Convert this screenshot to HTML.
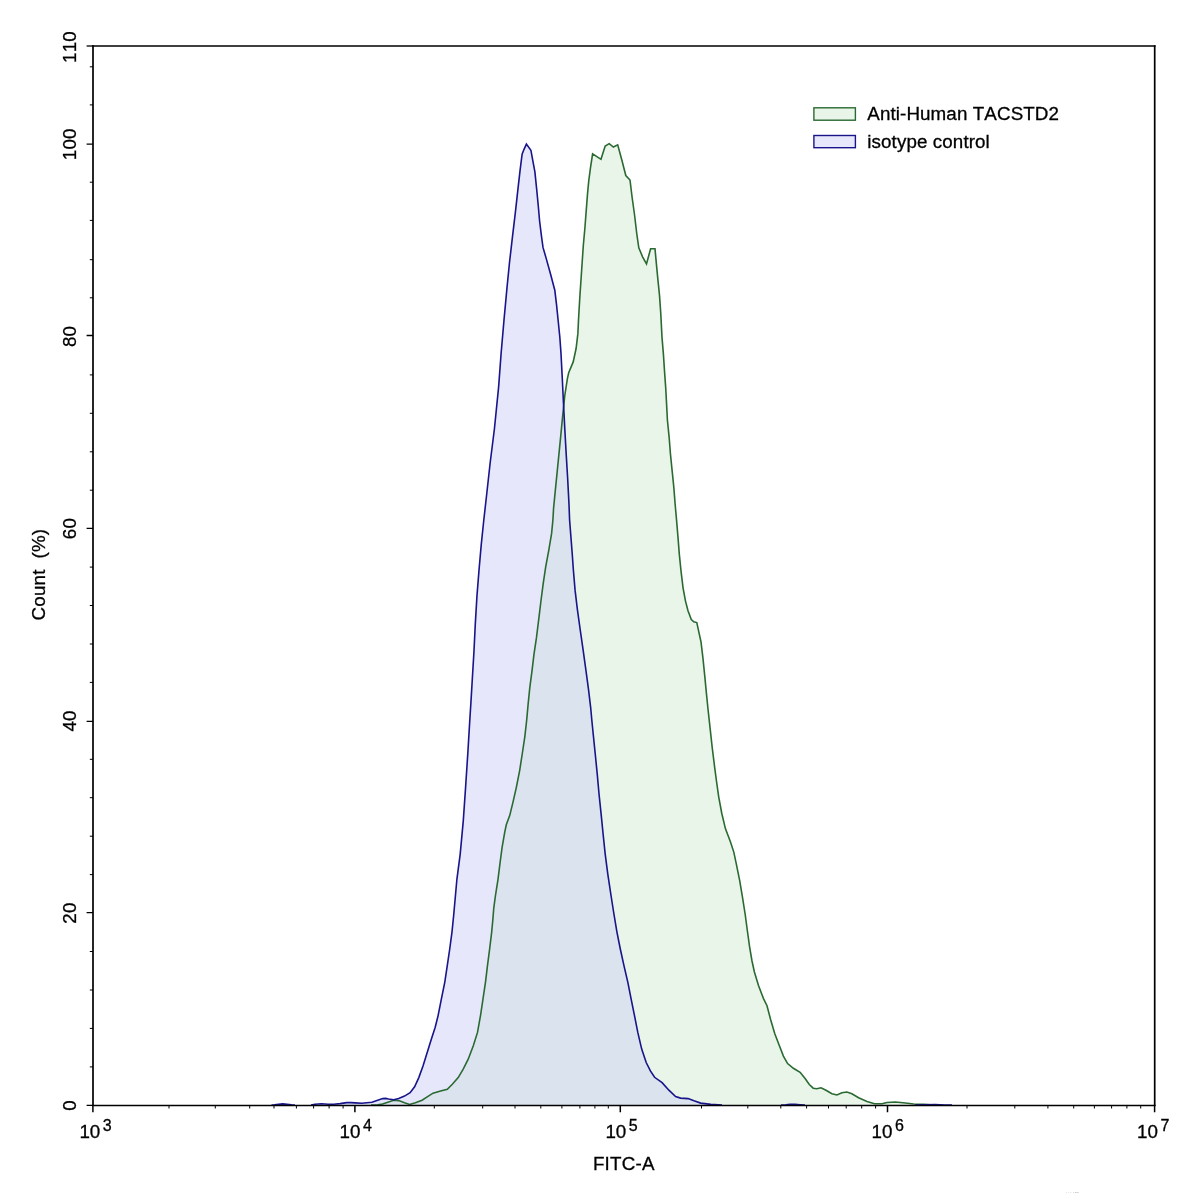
<!DOCTYPE html>
<html><head><meta charset="utf-8"><title>FITC-A histogram</title>
<style>
html,body{margin:0;padding:0;background:#fff;}
body{width:1197px;height:1193px;overflow:hidden;}
svg{display:block;}
text{font-family:"Liberation Sans",sans-serif;fill:#000;font-kerning:none;letter-spacing:0.2px;stroke:#000;stroke-width:0.3px;}
svg{will-change:transform;}
</style></head><body>
<svg width="1197" height="1193" viewBox="0 0 1197 1193">
<rect x="0" y="0" width="1197" height="1193" fill="#ffffff"/>

<defs><clipPath id="cg"><path d="M371.0,1105.3 L378.0,1104.9 L382.5,1104.0 L388.6,1101.9 L393.6,1100.2 L398.7,1100.6 L404.5,1102.8 L409.6,1104.4 L415.4,1102.8 L422.1,1100.2 L427.2,1096.9 L433.0,1093.2 L440.6,1091.0 L447.3,1089.3 L452.3,1084.3 L458.2,1077.6 L463.2,1069.2 L468.2,1059.2 L473.3,1045.8 L477.5,1032.4 L480.5,1015.6 L483.0,998.8 L485.5,982.1 L487.5,965.3 L489.7,948.5 L491.7,931.8 L492.8,920.0 L493.8,907.8 L495.4,896.0 L498.0,879.3 L500.1,862.5 L502.1,847.4 L504.7,832.3 L506.3,824.8 L509.7,815.6 L513.0,802.1 L516.4,787.1 L519.7,770.3 L522.3,753.5 L524.8,736.8 L526.7,720.0 L528.1,704.4 L529.8,687.6 L532.0,670.9 L534.0,654.1 L536.5,637.4 L539.0,617.2 L541.0,600.5 L543.2,583.7 L545.7,566.9 L548.8,550.2 L551.6,533.4 L552.9,520.0 L553.6,507.8 L555.6,487.6 L558.1,462.5 L560.6,437.4 L562.7,415.6 L564.8,395.4 L567.4,378.7 L568.7,372.8 L573.2,361.9 L576.1,348.5 L577.9,333.4 L578.5,320.0 L579.9,296.0 L581.6,270.9 L583.3,245.7 L584.9,228.0 L586.3,209.6 L587.6,192.9 L588.8,180.3 L590.5,167.7 L592.6,153.8 L601.0,159.3 L603.1,152.4 L605.2,146.0 L609.2,143.6 L613.4,147.0 L617.7,144.8 L621.9,160.2 L625.8,175.5 L630.0,180.0 L632.0,196.5 L634.5,214.5 L636.8,234.0 L638.8,247.9 L642.7,257.1 L646.5,263.9 L650.6,248.8 L655.0,248.8 L656.2,261.9 L657.8,278.7 L659.5,295.4 L660.7,312.2 L662.0,337.4 L663.4,354.1 L664.5,370.9 L665.7,387.6 L666.6,404.4 L667.4,420.0 L669.1,436.8 L670.4,453.5 L672.1,470.3 L673.8,487.1 L675.1,503.8 L676.6,520.6 L678.0,537.4 L679.3,554.1 L681.0,570.9 L683.0,587.6 L685.5,601.1 L688.0,610.8 L691.3,619.5 L693.8,621.8 L696.8,622.6 L698.8,631.9 L701.0,641.9 L703.0,658.7 L704.7,675.4 L706.3,692.2 L708.0,709.0 L710.2,729.1 L712.2,747.5 L714.7,767.6 L716.6,782.0 L718.7,796.8 L721.8,813.5 L725.4,828.6 L730.5,842.0 L733.8,852.1 L736.3,863.8 L739.7,880.6 L742.5,897.4 L745.2,914.5 L747.4,931.0 L749.6,946.8 L752.0,961.0 L754.4,972.0 L758.4,985.2 L763.5,998.6 L767.0,1005.7 L770.6,1019.5 L774.8,1033.8 L779.2,1045.2 L783.4,1056.1 L787.6,1063.6 L793.4,1068.3 L800.1,1072.3 L805.1,1078.6 L809.3,1084.5 L813.2,1088.2 L816.8,1088.7 L821.0,1087.8 L826.0,1090.3 L831.9,1093.7 L836.9,1095.0 L841.9,1092.8 L846.9,1092.0 L851.9,1093.7 L858.6,1097.8 L867.0,1101.5 L874.5,1103.7 L882.0,1103.7 L887.0,1102.5 L895.4,1102.0 L905.4,1103.0 L913.7,1104.0 L923.8,1104.4 L934.5,1105.3 L934.5,1105.3 L371.0,1105.3 Z"/></clipPath></defs>
<path d="M371.0,1105.3 L378.0,1104.9 L382.5,1104.0 L388.6,1101.9 L393.6,1100.2 L398.7,1100.6 L404.5,1102.8 L409.6,1104.4 L415.4,1102.8 L422.1,1100.2 L427.2,1096.9 L433.0,1093.2 L440.6,1091.0 L447.3,1089.3 L452.3,1084.3 L458.2,1077.6 L463.2,1069.2 L468.2,1059.2 L473.3,1045.8 L477.5,1032.4 L480.5,1015.6 L483.0,998.8 L485.5,982.1 L487.5,965.3 L489.7,948.5 L491.7,931.8 L492.8,920.0 L493.8,907.8 L495.4,896.0 L498.0,879.3 L500.1,862.5 L502.1,847.4 L504.7,832.3 L506.3,824.8 L509.7,815.6 L513.0,802.1 L516.4,787.1 L519.7,770.3 L522.3,753.5 L524.8,736.8 L526.7,720.0 L528.1,704.4 L529.8,687.6 L532.0,670.9 L534.0,654.1 L536.5,637.4 L539.0,617.2 L541.0,600.5 L543.2,583.7 L545.7,566.9 L548.8,550.2 L551.6,533.4 L552.9,520.0 L553.6,507.8 L555.6,487.6 L558.1,462.5 L560.6,437.4 L562.7,415.6 L564.8,395.4 L567.4,378.7 L568.7,372.8 L573.2,361.9 L576.1,348.5 L577.9,333.4 L578.5,320.0 L579.9,296.0 L581.6,270.9 L583.3,245.7 L584.9,228.0 L586.3,209.6 L587.6,192.9 L588.8,180.3 L590.5,167.7 L592.6,153.8 L601.0,159.3 L603.1,152.4 L605.2,146.0 L609.2,143.6 L613.4,147.0 L617.7,144.8 L621.9,160.2 L625.8,175.5 L630.0,180.0 L632.0,196.5 L634.5,214.5 L636.8,234.0 L638.8,247.9 L642.7,257.1 L646.5,263.9 L650.6,248.8 L655.0,248.8 L656.2,261.9 L657.8,278.7 L659.5,295.4 L660.7,312.2 L662.0,337.4 L663.4,354.1 L664.5,370.9 L665.7,387.6 L666.6,404.4 L667.4,420.0 L669.1,436.8 L670.4,453.5 L672.1,470.3 L673.8,487.1 L675.1,503.8 L676.6,520.6 L678.0,537.4 L679.3,554.1 L681.0,570.9 L683.0,587.6 L685.5,601.1 L688.0,610.8 L691.3,619.5 L693.8,621.8 L696.8,622.6 L698.8,631.9 L701.0,641.9 L703.0,658.7 L704.7,675.4 L706.3,692.2 L708.0,709.0 L710.2,729.1 L712.2,747.5 L714.7,767.6 L716.6,782.0 L718.7,796.8 L721.8,813.5 L725.4,828.6 L730.5,842.0 L733.8,852.1 L736.3,863.8 L739.7,880.6 L742.5,897.4 L745.2,914.5 L747.4,931.0 L749.6,946.8 L752.0,961.0 L754.4,972.0 L758.4,985.2 L763.5,998.6 L767.0,1005.7 L770.6,1019.5 L774.8,1033.8 L779.2,1045.2 L783.4,1056.1 L787.6,1063.6 L793.4,1068.3 L800.1,1072.3 L805.1,1078.6 L809.3,1084.5 L813.2,1088.2 L816.8,1088.7 L821.0,1087.8 L826.0,1090.3 L831.9,1093.7 L836.9,1095.0 L841.9,1092.8 L846.9,1092.0 L851.9,1093.7 L858.6,1097.8 L867.0,1101.5 L874.5,1103.7 L882.0,1103.7 L887.0,1102.5 L895.4,1102.0 L905.4,1103.0 L913.7,1104.0 L923.8,1104.4 L934.5,1105.3 L934.5,1105.3 L371.0,1105.3 Z" fill="#e9f5e9" stroke="none"/>
<path d="M271.5,1105.3 L274.5,1104.9 L278.5,1104.2 L282.7,1103.9 L287.0,1104.2 L291.5,1104.9 L295.0,1105.3 L311.0,1105.3 L315.0,1104.2 L321.5,1103.8 L328.0,1104.2 L334.0,1104.3 L340.0,1103.6 L346.7,1102.6 L351.0,1102.6 L355.1,1102.9 L361.8,1103.3 L371.9,1102.3 L377.7,1100.2 L382.7,1098.6 L385.6,1098.4 L388.6,1099.0 L393.6,1099.7 L398.7,1098.6 L404.5,1096.1 L410.1,1092.7 L414.6,1086.8 L418.8,1077.6 L423.0,1065.9 L427.2,1052.5 L431.4,1039.1 L435.2,1027.3 L438.1,1015.6 L441.4,998.8 L444.8,982.1 L447.3,965.3 L449.8,948.5 L452.0,931.8 L453.7,915.0 L456.9,879.3 L460.2,854.1 L463.3,820.6 L465.6,787.1 L467.8,753.5 L469.8,720.0 L470.8,704.4 L472.3,679.3 L474.0,650.8 L475.3,623.9 L477.0,595.4 L479.0,570.3 L481.2,545.1 L483.8,520.0 L486.5,496.0 L490.2,462.5 L494.4,429.0 L498.6,387.1 L501.1,353.5 L504.0,320.0 L507.0,287.6 L509.5,262.5 L512.4,237.4 L515.4,212.2 L517.8,190.4 L520.1,170.2 L522.1,154.2 L523.8,149.8 L526.4,144.1 L530.9,150.2 L532.1,156.9 L534.9,171.8 L536.6,188.5 L538.2,205.0 L539.6,221.0 L541.4,235.7 L543.0,247.4 L546.4,259.1 L550.6,274.2 L554.8,290.2 L556.5,304.4 L558.1,320.0 L559.8,336.8 L561.0,353.5 L562.3,378.7 L563.5,403.8 L564.8,429.0 L566.2,454.1 L567.7,479.3 L569.0,504.4 L569.6,520.0 L570.9,536.8 L572.2,553.5 L573.4,570.3 L575.1,590.4 L577.3,608.9 L580.1,629.0 L583.0,649.1 L586.0,670.9 L588.5,689.3 L590.7,707.8 L591.8,720.0 L593.5,736.8 L595.2,753.5 L597.2,773.6 L599.0,793.8 L601.1,813.9 L603.1,834.0 L605.2,854.1 L607.8,874.2 L611.1,896.0 L613.6,912.0 L616.9,931.8 L620.2,948.5 L623.9,965.3 L627.8,982.1 L631.1,998.8 L634.5,1015.6 L637.8,1032.4 L641.7,1049.1 L646.2,1062.5 L650.4,1070.9 L654.6,1077.3 L662.1,1082.6 L668.9,1090.2 L675.6,1096.6 L680.6,1098.1 L688.1,1098.6 L694.0,1100.8 L700.7,1103.1 L710.8,1104.4 L722.0,1105.3 L781.0,1105.3 L786.0,1104.7 L790.0,1104.3 L795.0,1104.3 L800.0,1104.7 L805.0,1105.3 L830.0,1105.3 L915.0,1105.3 L925.0,1104.8 L935.0,1104.5 L945.0,1105.0 L952.0,1105.3 L952.0,1105.3 L271.5,1105.3 Z" fill="#e6e7fb" stroke="none"/>
<path d="M271.5,1105.3 L274.5,1104.9 L278.5,1104.2 L282.7,1103.9 L287.0,1104.2 L291.5,1104.9 L295.0,1105.3 L311.0,1105.3 L315.0,1104.2 L321.5,1103.8 L328.0,1104.2 L334.0,1104.3 L340.0,1103.6 L346.7,1102.6 L351.0,1102.6 L355.1,1102.9 L361.8,1103.3 L371.9,1102.3 L377.7,1100.2 L382.7,1098.6 L385.6,1098.4 L388.6,1099.0 L393.6,1099.7 L398.7,1098.6 L404.5,1096.1 L410.1,1092.7 L414.6,1086.8 L418.8,1077.6 L423.0,1065.9 L427.2,1052.5 L431.4,1039.1 L435.2,1027.3 L438.1,1015.6 L441.4,998.8 L444.8,982.1 L447.3,965.3 L449.8,948.5 L452.0,931.8 L453.7,915.0 L456.9,879.3 L460.2,854.1 L463.3,820.6 L465.6,787.1 L467.8,753.5 L469.8,720.0 L470.8,704.4 L472.3,679.3 L474.0,650.8 L475.3,623.9 L477.0,595.4 L479.0,570.3 L481.2,545.1 L483.8,520.0 L486.5,496.0 L490.2,462.5 L494.4,429.0 L498.6,387.1 L501.1,353.5 L504.0,320.0 L507.0,287.6 L509.5,262.5 L512.4,237.4 L515.4,212.2 L517.8,190.4 L520.1,170.2 L522.1,154.2 L523.8,149.8 L526.4,144.1 L530.9,150.2 L532.1,156.9 L534.9,171.8 L536.6,188.5 L538.2,205.0 L539.6,221.0 L541.4,235.7 L543.0,247.4 L546.4,259.1 L550.6,274.2 L554.8,290.2 L556.5,304.4 L558.1,320.0 L559.8,336.8 L561.0,353.5 L562.3,378.7 L563.5,403.8 L564.8,429.0 L566.2,454.1 L567.7,479.3 L569.0,504.4 L569.6,520.0 L570.9,536.8 L572.2,553.5 L573.4,570.3 L575.1,590.4 L577.3,608.9 L580.1,629.0 L583.0,649.1 L586.0,670.9 L588.5,689.3 L590.7,707.8 L591.8,720.0 L593.5,736.8 L595.2,753.5 L597.2,773.6 L599.0,793.8 L601.1,813.9 L603.1,834.0 L605.2,854.1 L607.8,874.2 L611.1,896.0 L613.6,912.0 L616.9,931.8 L620.2,948.5 L623.9,965.3 L627.8,982.1 L631.1,998.8 L634.5,1015.6 L637.8,1032.4 L641.7,1049.1 L646.2,1062.5 L650.4,1070.9 L654.6,1077.3 L662.1,1082.6 L668.9,1090.2 L675.6,1096.6 L680.6,1098.1 L688.1,1098.6 L694.0,1100.8 L700.7,1103.1 L710.8,1104.4 L722.0,1105.3 L781.0,1105.3 L786.0,1104.7 L790.0,1104.3 L795.0,1104.3 L800.0,1104.7 L805.0,1105.3 L830.0,1105.3 L915.0,1105.3 L925.0,1104.8 L935.0,1104.5 L945.0,1105.0 L952.0,1105.3 L952.0,1105.3 L271.5,1105.3 Z" fill="#dbe3ee" stroke="none" clip-path="url(#cg)"/>
<path d="M371.0,1105.0 L378.0,1104.9 L382.5,1104.0 L388.6,1101.9 L393.6,1100.2 L398.7,1100.6 L404.5,1102.8 L409.6,1104.4 L415.4,1102.8 L422.1,1100.2 L427.2,1096.9 L433.0,1093.2 L440.6,1091.0 L447.3,1089.3 L452.3,1084.3 L458.2,1077.6 L463.2,1069.2 L468.2,1059.2 L473.3,1045.8 L477.5,1032.4 L480.5,1015.6 L483.0,998.8 L485.5,982.1 L487.5,965.3 L489.7,948.5 L491.7,931.8 L492.8,920.0 L493.8,907.8 L495.4,896.0 L498.0,879.3 L500.1,862.5 L502.1,847.4 L504.7,832.3 L506.3,824.8 L509.7,815.6 L513.0,802.1 L516.4,787.1 L519.7,770.3 L522.3,753.5 L524.8,736.8 L526.7,720.0 L528.1,704.4 L529.8,687.6 L532.0,670.9 L534.0,654.1 L536.5,637.4 L539.0,617.2 L541.0,600.5 L543.2,583.7 L545.7,566.9 L548.8,550.2 L551.6,533.4 L552.9,520.0 L553.6,507.8 L555.6,487.6 L558.1,462.5 L560.6,437.4 L562.7,415.6 L564.8,395.4 L567.4,378.7 L568.7,372.8 L573.2,361.9 L576.1,348.5 L577.9,333.4 L578.5,320.0 L579.9,296.0 L581.6,270.9 L583.3,245.7 L584.9,228.0 L586.3,209.6 L587.6,192.9 L588.8,180.3 L590.5,167.7 L592.6,153.8 L601.0,159.3 L603.1,152.4 L605.2,146.0 L609.2,143.6 L613.4,147.0 L617.7,144.8 L621.9,160.2 L625.8,175.5 L630.0,180.0 L632.0,196.5 L634.5,214.5 L636.8,234.0 L638.8,247.9 L642.7,257.1 L646.5,263.9 L650.6,248.8 L655.0,248.8 L656.2,261.9 L657.8,278.7 L659.5,295.4 L660.7,312.2 L662.0,337.4 L663.4,354.1 L664.5,370.9 L665.7,387.6 L666.6,404.4 L667.4,420.0 L669.1,436.8 L670.4,453.5 L672.1,470.3 L673.8,487.1 L675.1,503.8 L676.6,520.6 L678.0,537.4 L679.3,554.1 L681.0,570.9 L683.0,587.6 L685.5,601.1 L688.0,610.8 L691.3,619.5 L693.8,621.8 L696.8,622.6 L698.8,631.9 L701.0,641.9 L703.0,658.7 L704.7,675.4 L706.3,692.2 L708.0,709.0 L710.2,729.1 L712.2,747.5 L714.7,767.6 L716.6,782.0 L718.7,796.8 L721.8,813.5 L725.4,828.6 L730.5,842.0 L733.8,852.1 L736.3,863.8 L739.7,880.6 L742.5,897.4 L745.2,914.5 L747.4,931.0 L749.6,946.8 L752.0,961.0 L754.4,972.0 L758.4,985.2 L763.5,998.6 L767.0,1005.7 L770.6,1019.5 L774.8,1033.8 L779.2,1045.2 L783.4,1056.1 L787.6,1063.6 L793.4,1068.3 L800.1,1072.3 L805.1,1078.6 L809.3,1084.5 L813.2,1088.2 L816.8,1088.7 L821.0,1087.8 L826.0,1090.3 L831.9,1093.7 L836.9,1095.0 L841.9,1092.8 L846.9,1092.0 L851.9,1093.7 L858.6,1097.8 L867.0,1101.5 L874.5,1103.7 L882.0,1103.7 L887.0,1102.5 L895.4,1102.0 L905.4,1103.0 L913.7,1104.0 L923.8,1104.4 L934.5,1105.0" fill="none" stroke="#2a6a32" stroke-width="1.6" stroke-linejoin="miter" stroke-miterlimit="6"/>
<path d="M271.5,1105.0 L274.5,1104.9 L278.5,1104.2 L282.7,1103.9 L287.0,1104.2 L291.5,1104.9 L295.0,1105.0 M311.0,1105.0 L315.0,1104.2 L321.5,1103.8 L328.0,1104.2 L334.0,1104.3 L340.0,1103.6 L346.7,1102.6 L351.0,1102.6 L355.1,1102.9 L361.8,1103.3 L371.9,1102.3 L377.7,1100.2 L382.7,1098.6 L385.6,1098.4 L388.6,1099.0 L393.6,1099.7 L398.7,1098.6 L404.5,1096.1 L410.1,1092.7 L414.6,1086.8 L418.8,1077.6 L423.0,1065.9 L427.2,1052.5 L431.4,1039.1 L435.2,1027.3 L438.1,1015.6 L441.4,998.8 L444.8,982.1 L447.3,965.3 L449.8,948.5 L452.0,931.8 L453.7,915.0 L456.9,879.3 L460.2,854.1 L463.3,820.6 L465.6,787.1 L467.8,753.5 L469.8,720.0 L470.8,704.4 L472.3,679.3 L474.0,650.8 L475.3,623.9 L477.0,595.4 L479.0,570.3 L481.2,545.1 L483.8,520.0 L486.5,496.0 L490.2,462.5 L494.4,429.0 L498.6,387.1 L501.1,353.5 L504.0,320.0 L507.0,287.6 L509.5,262.5 L512.4,237.4 L515.4,212.2 L517.8,190.4 L520.1,170.2 L522.1,154.2 L523.8,149.8 L526.4,144.1 L530.9,150.2 L532.1,156.9 L534.9,171.8 L536.6,188.5 L538.2,205.0 L539.6,221.0 L541.4,235.7 L543.0,247.4 L546.4,259.1 L550.6,274.2 L554.8,290.2 L556.5,304.4 L558.1,320.0 L559.8,336.8 L561.0,353.5 L562.3,378.7 L563.5,403.8 L564.8,429.0 L566.2,454.1 L567.7,479.3 L569.0,504.4 L569.6,520.0 L570.9,536.8 L572.2,553.5 L573.4,570.3 L575.1,590.4 L577.3,608.9 L580.1,629.0 L583.0,649.1 L586.0,670.9 L588.5,689.3 L590.7,707.8 L591.8,720.0 L593.5,736.8 L595.2,753.5 L597.2,773.6 L599.0,793.8 L601.1,813.9 L603.1,834.0 L605.2,854.1 L607.8,874.2 L611.1,896.0 L613.6,912.0 L616.9,931.8 L620.2,948.5 L623.9,965.3 L627.8,982.1 L631.1,998.8 L634.5,1015.6 L637.8,1032.4 L641.7,1049.1 L646.2,1062.5 L650.4,1070.9 L654.6,1077.3 L662.1,1082.6 L668.9,1090.2 L675.6,1096.6 L680.6,1098.1 L688.1,1098.6 L694.0,1100.8 L700.7,1103.1 L710.8,1104.4 L722.0,1105.0 M781.0,1105.0 L786.0,1104.7 L790.0,1104.3 L795.0,1104.3 L800.0,1104.7 L805.0,1105.0 M915.0,1105.0 L925.0,1104.8 L935.0,1104.5 L945.0,1105.0 L952.0,1105.0" fill="none" stroke="#18148a" stroke-width="1.6" stroke-linejoin="miter" stroke-miterlimit="6"/>
<path d="M93.0,45.3 V1106.0 M1154.7,45.3 V1106.0" stroke="#000" stroke-width="1.7" fill="none"/>
<path d="M92.2,46.0 H1155.5 M92.2,1105.5 H1155.5" stroke="#000" stroke-width="1.5" fill="none"/>
<path d="M92.9,1105.3 v7.0 M354.9,1105.3 v7.0 M620.3,1105.3 v7.0 M887.5,1105.3 v7.0 M1154.6,1105.3 v7.0" stroke="#000" stroke-width="1.5" fill="none"/>
<path d="M169.0,1105.3 v3.2 M215.3,1105.3 v3.2 M249.7,1105.3 v3.2 M274.0,1105.3 v3.2 M296.4,1105.3 v3.2 M313.6,1105.3 v3.2 M329.1,1105.3 v3.2 M343.1,1105.3 v3.2 M434.3,1105.3 v3.2 M482.7,1105.3 v3.2 M515.0,1105.3 v3.2 M540.8,1105.3 v3.2 M561.9,1105.3 v3.2 M579.9,1105.3 v3.2 M594.9,1105.3 v3.2 M608.3,1105.3 v3.2 M701.5,1105.3 v3.2 M747.8,1105.3 v3.2 M780.8,1105.3 v3.2 M806.6,1105.3 v3.2 M828.5,1105.3 v3.2 M846.2,1105.3 v3.2 M861.7,1105.3 v3.2 M875.6,1105.3 v3.2 M967.0,1105.3 v3.2 M1014.8,1105.3 v3.2 M1047.9,1105.3 v3.2 M1073.7,1105.3 v3.2 M1094.4,1105.3 v3.2 M1111.6,1105.3 v3.2 M1126.9,1105.3 v3.2 M1140.7,1105.3 v3.2" stroke="#000" stroke-width="1.0" fill="none"/>
<path d="M93.0,1105.4 h-6.4 M93.0,912.6 h-6.4 M93.0,721.4 h-6.4 M93.0,528.4 h-6.4 M93.0,335.5 h-6.4 M93.0,144.1 h-6.4" stroke="#000" stroke-width="1.3" fill="none"/>
<path d="M93.0,46.0 h-6.4" stroke="#000" stroke-width="1.3" fill="none"/>
<path d="M93.0,1066.9 h-3.2 M93.0,1028.4 h-3.2 M93.0,990.0 h-3.2 M93.0,951.5 h-3.2 M93.0,874.6 h-3.2 M93.0,836.2 h-3.2 M93.0,797.7 h-3.2 M93.0,759.3 h-3.2 M93.0,682.4 h-3.2 M93.0,644.0 h-3.2 M93.0,605.5 h-3.2 M93.0,567.1 h-3.2 M93.0,490.2 h-3.2 M93.0,451.8 h-3.2 M93.0,413.3 h-3.2 M93.0,374.9 h-3.2 M93.0,297.8 h-3.2 M93.0,259.7 h-3.2 M93.0,220.4 h-3.2 M93.0,182.2 h-3.2 M93.0,104.9 h-3.2 M93.0,66.8 h-3.2" stroke="#000" stroke-width="1.0" fill="none"/>
<text transform="translate(76.2,1105.3) rotate(-90)" text-anchor="middle" font-size="18.8">0</text>
<text transform="translate(76.2,913.1) rotate(-90)" text-anchor="middle" font-size="18.8">20</text>
<text transform="translate(76.2,720.9) rotate(-90)" text-anchor="middle" font-size="18.8">40</text>
<text transform="translate(76.2,528.6) rotate(-90)" text-anchor="middle" font-size="18.8">60</text>
<text transform="translate(76.2,336.4) rotate(-90)" text-anchor="middle" font-size="18.8">80</text>
<text transform="translate(76.2,144.2) rotate(-90)" text-anchor="middle" font-size="18.8">100</text>
<text transform="translate(76.2,47.0) rotate(-90)" text-anchor="middle" font-size="18.8">110</text>
<text transform="translate(44.8,574.6) rotate(-90)" text-anchor="middle" font-size="18.8" xml:space="preserve">Count  (%)</text>
<text x="79.4" y="1138.4" font-size="18.8" style="letter-spacing:0">10</text>
<text x="102.8" y="1131.2" font-size="16.0">3</text>
<text x="339.6" y="1138.4" font-size="18.8" style="letter-spacing:0">10</text>
<text x="363.0" y="1131.2" font-size="16.0">4</text>
<text x="605.4" y="1138.4" font-size="18.8" style="letter-spacing:0">10</text>
<text x="628.8" y="1131.2" font-size="16.0">5</text>
<text x="871.6" y="1138.4" font-size="18.8" style="letter-spacing:0">10</text>
<text x="895.0" y="1131.2" font-size="16.0">6</text>
<text x="1137.0" y="1138.4" font-size="18.8" style="letter-spacing:0">10</text>
<text x="1160.4" y="1131.2" font-size="16.0">7</text>
<text x="623.8" y="1169.7" text-anchor="middle" font-size="18.8">FITC-A</text>
<rect x="813.9" y="107.8" width="41.5" height="12.4" fill="#e9f5e9" stroke="#2a6a32" stroke-width="1.4"/>
<rect x="813.9" y="135.5" width="41.5" height="12.2" fill="#e6e7fb" stroke="#18148a" stroke-width="1.4"/>
<text x="867.3" y="120.4" font-size="18.8" style="letter-spacing:0.1px">Anti-Human TACSTD2</text>
<text x="867.3" y="147.9" font-size="18.8" style="letter-spacing:0.1px">isotype control</text>
<path d="M1066,1192.6h1.2M1068.3,1192.6h1M1070.2,1192.6h1.2" stroke="#e6e6e6" stroke-width="1" fill="none"/>
<path d="M1073,1192.6h1.2" stroke="#dcdcdc" stroke-width="1" fill="none"/>
<path d="M1075,1192.6h1.6M1077.2,1192.6h1.4" stroke="#c4c4c4" stroke-width="1" fill="none"/>
</svg></body></html>
